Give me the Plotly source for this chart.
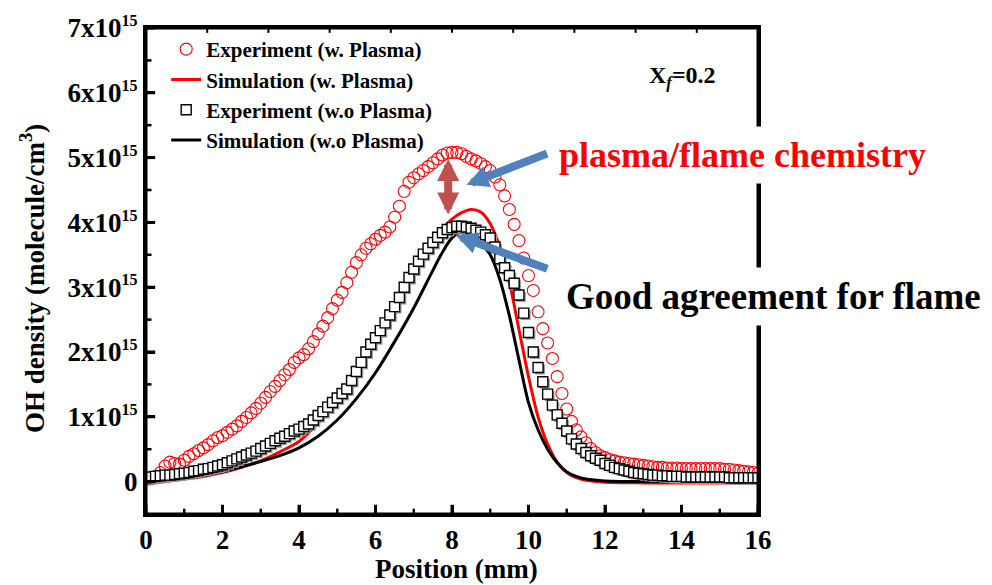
import numpy as np
import plotly.graph_objects as go

FONT = "Liberation Serif"
E15 = 1e15

# Experiment with plasma (open red circles), sampled every 0.125 mm from 0.25 mm
exp_plasma_x = np.linspace(0.25, 16.0, 127)
exp_plasma = [
    0.08, 0.14, 0.24, 0.30, 0.28, 0.27, 0.33, 0.39,
    0.43, 0.48, 0.52, 0.57, 0.63, 0.68, 0.71, 0.76,
    0.81, 0.86, 0.93, 0.99, 1.06, 1.13, 1.21, 1.30,
    1.39, 1.47, 1.56, 1.65, 1.73, 1.84, 1.91, 1.96,
    2.05, 2.16, 2.28, 2.40, 2.53, 2.67, 2.80, 2.92,
    3.07, 3.23, 3.38, 3.50, 3.60, 3.67, 3.74, 3.80,
    3.85, 3.93, 4.08, 4.25, 4.48, 4.62, 4.69, 4.75,
    4.80, 4.86, 4.92, 4.98, 5.04, 5.07, 5.08, 5.08,
    5.06, 5.02, 4.98, 4.95, 4.91, 4.86, 4.80, 4.70,
    4.58, 4.41, 4.20, 3.97, 3.72, 3.45, 3.18, 2.95,
    2.62, 2.36, 2.14, 1.90, 1.62, 1.36, 1.12, 0.93,
    0.80, 0.69, 0.60, 0.51, 0.45, 0.40, 0.37, 0.34,
    0.32, 0.30, 0.29, 0.28, 0.27, 0.26, 0.25, 0.24,
    0.23, 0.22, 0.22, 0.21, 0.21, 0.21, 0.20, 0.20,
    0.20, 0.20, 0.20, 0.20, 0.20, 0.20, 0.20, 0.19,
    0.19, 0.18, 0.17, 0.16, 0.15, 0.14, 0.13,
]

# Experiment without plasma (open black squares), sampled every 0.125 mm from 0 mm
exp_flame_x = np.linspace(0.0, 16.0, 129)
exp_flame = [
    0.06, 0.07, 0.08, 0.09, 0.10, 0.10, 0.11, 0.12,
    0.13, 0.14, 0.16, 0.17, 0.19, 0.20, 0.22, 0.24,
    0.26, 0.29, 0.32, 0.35, 0.38, 0.41, 0.44, 0.47,
    0.51, 0.55, 0.59, 0.63, 0.67, 0.70, 0.74, 0.78,
    0.81, 0.85, 0.89, 0.95, 1.02, 1.08, 1.15, 1.22,
    1.29, 1.36, 1.43, 1.56, 1.70, 1.84, 2.00, 2.12,
    2.22, 2.33, 2.45, 2.57, 2.70, 2.84, 3.00, 3.15,
    3.28, 3.40, 3.51, 3.60, 3.69, 3.77, 3.84, 3.89,
    3.92, 3.94, 3.94, 3.93, 3.91, 3.88, 3.85, 3.81,
    3.76, 3.62, 3.44, 3.30, 3.18, 3.06, 2.88, 2.60,
    2.30, 2.00, 1.76, 1.54, 1.35, 1.18, 1.03, 0.90,
    0.78, 0.66, 0.58, 0.51, 0.45, 0.40, 0.36, 0.33,
    0.28, 0.25, 0.22, 0.20, 0.18, 0.16, 0.14, 0.13,
    0.12, 0.11, 0.10, 0.10, 0.09, 0.09, 0.08, 0.08,
    0.08, 0.07, 0.07, 0.07, 0.07, 0.07, 0.07, 0.07,
    0.07, 0.07, 0.06, 0.06, 0.06, 0.06, 0.06, 0.06,
    0.06,
]

# Simulated profiles
sim_x = [0, 0.5, 1, 1.5, 2, 2.5, 3, 3.5, 4, 4.5, 5, 5.5, 6, 6.5, 7, 7.5, 7.75,
         8, 8.25, 8.5, 8.75, 9, 9.25, 9.5, 9.75, 10, 10.25, 10.5, 10.75, 11,
         11.25, 11.5, 12, 13, 14, 15, 16]
sim_plasma = [-0.04, 0.00, 0.04, 0.08, 0.14, 0.22, 0.32, 0.46, 0.62, 0.90, 1.22,
              1.66, 2.15, 2.68, 3.22, 3.70, 3.90, 4.05, 4.15, 4.20, 4.16, 3.98,
              3.62, 3.08, 2.35, 1.62, 1.00, 0.58, 0.30, 0.14, 0.06, 0.02, -0.01,
              -0.02, -0.02, -0.02, -0.02]
sim_flame = [-0.01, 0.02, 0.05, 0.09, 0.15, 0.23, 0.31, 0.40, 0.52, 0.70, 0.95,
             1.28, 1.68, 2.16, 2.68, 3.26, 3.54, 3.76, 3.85, 3.80, 3.68, 3.50,
             3.12, 2.56, 1.88, 1.22, 0.80, 0.50, 0.29, 0.15, 0.08, 0.04, 0.01,
             0.00, 0.00, 0.00, 0.00]

# Tick positions and labels
y_tick_vals = [0, 1, 2, 3, 4, 5, 6, 7]
y_minor_vals = [0.5, 1.5, 2.5, 3.5, 4.5, 5.5, 6.5]
y_tick_text = ["<b>0</b>"] + [
    f"<b>{v}x10<sup><span style='font-size:16px'>15</span></sup></b>"
    for v in y_tick_vals[1:]]
x_tick_vals = [0, 2, 4, 6, 8, 10, 12, 14, 16]
x_minor_vals = [1, 3, 5, 7, 9, 11, 13, 15]
x_top_vals = [1.6, 3.2, 4.8, 6.4, 8.0, 9.6, 11.2, 12.8, 14.4]
x_tick_text = [f"<b>{v}</b>" for v in x_tick_vals]


def scale(vals):
    return [v * E15 for v in vals]


fig = go.Figure()

fig.add_trace(go.Scatter(
    x=sim_x, y=scale(sim_plasma), mode="lines", name="<b>Simulation (w. Plasma)</b>",
    line=dict(color="#ff0000", width=3, shape="spline", smoothing=0.8),
    legendrank=2,
))
fig.add_trace(go.Scatter(
    x=sim_x, y=scale(sim_flame), mode="lines", name="<b>Simulation (w.o Plasma)</b>",
    line=dict(color="#000000", width=3, shape="spline", smoothing=0.8),
    legendrank=4,
))
fig.add_trace(go.Scatter(
    x=exp_plasma_x, y=scale(exp_plasma), mode="markers",
    name="<b>Experiment (w. Plasma)</b>",
    marker=dict(symbol="circle-open", size=12, color="#ff0000", line=dict(width=1.1)),
    legendrank=1,
))
# soft drop shadow under the square markers
fig.add_trace(go.Scatter(
    x=exp_flame_x + 0.05, y=[v * E15 - 0.03 * E15 for v in exp_flame], mode="markers",
    marker=dict(symbol="square", size=10, color="#9a9a9a", line=dict(width=0)),
    showlegend=False, hoverinfo="skip",
))
fig.add_trace(go.Scatter(
    x=exp_flame_x, y=scale(exp_flame), mode="markers",
    name="<b>Experiment (w.o Plasma)</b>",
    marker=dict(symbol="square", size=10, color="#ffffff",
                line=dict(width=1.4, color="#000000")),
    legendrank=3,
))

axis_font = dict(family=FONT, size=27, color="#000000")

fig.update_layout(
    width=992, height=585,
    margin=dict(l=146, r=234, t=21, b=71),
    paper_bgcolor="#ffffff", plot_bgcolor="#ffffff",
    font=dict(family=FONT, color="#000000"),
    showlegend=True,
    legend=dict(
        x=0.033, y=0.998, xanchor="left", yanchor="top",
        bgcolor="rgba(0,0,0,0)", borderwidth=0,
        font=dict(family=FONT, size=21, color="#000000"),
        tracegroupgap=0,
    ),
    xaxis=dict(
        range=[0, 16], tickmode="array", tickvals=x_tick_vals, ticktext=x_tick_text,
        ticks="inside", ticklen=9, tickwidth=3, tickcolor="#000000",
        showline=True, linewidth=3, linecolor="#000000", mirror=True,
        showgrid=False, zeroline=False, tickfont=axis_font,
    ),
    yaxis=dict(
        range=[-0.5 * E15, 7 * E15], tickmode="array",
        tickvals=scale(y_tick_vals), ticktext=y_tick_text,
        ticks="inside", ticklen=9, tickwidth=3, tickcolor="#000000",
        showline=True, linewidth=3, linecolor="#000000", mirror=True,
        showgrid=False, zeroline=False, tickfont=axis_font,
    ),
)

# axis titles
fig.add_annotation(
    xref="paper", yref="paper", x=0.508, y=-0.114, xanchor="center", yanchor="middle",
    text="<b>Position (mm)</b>", showarrow=False, font=axis_font,
)
fig.add_annotation(
    xref="paper", yref="paper", x=-0.185, y=0.485, xanchor="center", yanchor="middle",
    text="<b>OH density (molecule/cm<sup>3</sup>)</b>", showarrow=False,
    textangle=-90, font=axis_font,
)

# plot frame and tick marks drawn as shapes so they always sit on top of the data
frame = dict(color="#000000", width=3)
fig.add_shape(type="rect", xref="paper", yref="paper", x0=0, x1=1, y0=0, y1=1,
              line=frame, layer="above")
for v in x_tick_vals:
    fig.add_shape(type="line", xref="x", yref="paper", x0=v, x1=v, y0=0, y1=0.019,
                  line=frame, layer="above")
for v in x_minor_vals:
    fig.add_shape(type="line", xref="x", yref="paper", x0=v, x1=v, y0=0, y1=0.011,
                  line=dict(color="#000000", width=2.5), layer="above")
for v in x_top_vals:
    fig.add_shape(type="line", xref="x", yref="paper", x0=v, x1=v, y0=1, y1=0.99,
                  line=dict(color="#000000", width=2), layer="above")
for v in y_tick_vals:
    fig.add_shape(type="line", xref="paper", yref="y", x0=0, x1=0.015,
                  y0=v * E15, y1=v * E15, line=frame, layer="above")
for v in y_minor_vals:
    fig.add_shape(type="line", xref="paper", yref="y", x0=0, x1=0.009,
                  y0=v * E15, y1=v * E15, line=dict(color="#000000", width=2.5),
                  layer="above")

# condition label
fig.add_annotation(
    xref="paper", yref="paper", x=0.876, y=0.90, xanchor="center", yanchor="middle",
    text="<b>X<sub><i>f</i></sub>=0.2</b>", showarrow=False,
    font=dict(family=FONT, size=24, color="#000000"),
)

# callout texts (white box breaks the frame line behind them)
fig.add_annotation(
    xref="paper", yref="paper", x=0.660, y=0.738, xanchor="left", yanchor="middle",
    text="<b>plasma/flame chemistry</b>", showarrow=False, bgcolor="#ffffff",
    borderpad=8, font=dict(family=FONT, size=36, color="#ff0000"),
)
fig.add_annotation(
    xref="paper", yref="paper", x=0.672, y=0.448, xanchor="left", yanchor="middle",
    text="<b>Good agreement for flame</b>", showarrow=False, bgcolor="#ffffff",
    borderpad=8, font=dict(family=FONT, size=37, color="#000000"),
)

# blue pointers
fig.add_annotation(
    x=8.38, y=4.58 * E15, xref="x", yref="y", text="", showarrow=True,
    ax=82, ay=-32, arrowcolor="#4f81bd", arrowwidth=8, arrowhead=2, arrowsize=0.55,
)
fig.add_annotation(
    x=8.1, y=3.80 * E15, xref="x", yref="y", text="", showarrow=True,
    ax=93, ay=34, arrowcolor="#4f81bd", arrowwidth=8, arrowhead=2, arrowsize=0.55,
)
# gap between measured and simulated peaks
fig.add_annotation(
    x=7.9, y=4.12 * E15, xref="x", yref="y", text="", showarrow=True,
    ax=0, ay=-57, arrowcolor="#c0504d", arrowwidth=8, arrowhead=2, arrowsize=0.55,
    arrowside="end+start", startarrowhead=2, startarrowsize=0.55,
)

fig.write_html("out.html")
